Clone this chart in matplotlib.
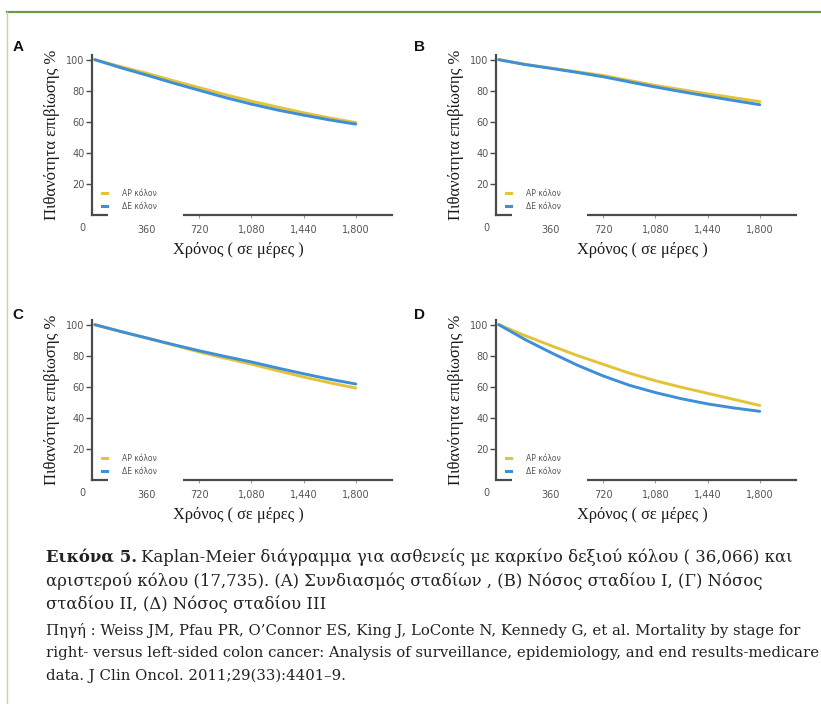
import matplotlib
matplotlib.use("Agg")
import matplotlib.pyplot as plt
from matplotlib.lines import Line2D
from matplotlib.patches import Rectangle

W, H = 821, 704

# survival (%) read every 180 days
days = [0, 180, 360, 540, 720, 900, 1080, 1260, 1440, 1620, 1800]
a_left = [100, 95.5, 91.2, 86.5, 82.0, 77.5, 73.3, 69.5, 65.8, 62.5, 59.5]
a_right = [100, 94.8, 90.0, 85.0, 80.3, 75.6, 71.4, 67.6, 64.3, 61.2, 58.5]
b_left = [100, 97.0, 94.6, 92.2, 89.8, 86.6, 83.4, 80.7, 78.0, 75.5, 73.0]
b_right = [100, 96.9, 94.4, 91.8, 89.0, 85.7, 82.4, 79.4, 76.5, 73.7, 71.0]
c_left = [100, 95.5, 91.3, 86.9, 82.4, 78.4, 74.6, 70.4, 66.3, 62.6, 59.2]
c_right = [100, 95.6, 91.4, 87.2, 83.2, 79.5, 76.0, 72.1, 68.4, 64.9, 61.8]
d_left = [100, 93.0, 86.5, 80.2, 74.5, 68.8, 63.9, 59.7, 55.8, 51.9, 48.0]
d_right = [100, 90.5, 82.0, 74.0, 67.0, 61.0, 56.3, 52.3, 49.0, 46.4, 44.2]

x_ticks = [360, 720, 1080, 1440, 1800]
x_ticklabels = ["360", "720", "1,080", "1,440", "1,800"]
y_ticks = [20, 40, 60, 80, 100]
series_labels = ["ΑΡ κόλον", "ΔΕ κόλον"]

YELLOW = "#e5c339"
BLUE = "#3d8fd8"
SPINE = "#4a4a4a"
TICK_TXT = "#555555"
SERIF = "Liberation Serif"
CAP_SERIF = "DejaVu Serif"

fig = plt.figure(figsize=(W / 100, H / 100), dpi=100)
fig.patch.set_facecolor("white")


def fx(px):
    return px / W


def fy(py):
    return 1 - py / H


# frame round the figure block
fig.add_artist(Line2D([fx(7), 1], [fy(12), fy(12)], color="#6f9a4c", lw=1.6))
fig.add_artist(Line2D([fx(7), fx(7)], [fy(12), 0], color="#cfcfa8", lw=1.0))

AX_W, AX_H = 300, 160

panels = [
    ("A", a_left, a_right, 92, 215, 18, 47),
    ("B", b_left, b_right, 496, 215, 419, 47),
    ("C", c_left, c_right, 92, 480, 18, 315),
    ("D", d_left, d_right, 496, 480, 419, 315),
]

for letter, left, right, x0, y0, lx, ly in panels:
    ax = fig.add_axes([fx(x0), fy(y0), AX_W / W, AX_H / H])
    ax.plot(days, left, color=YELLOW, lw=2.1, solid_capstyle="round")
    ax.plot(days, right, color=BLUE, lw=2.1, solid_capstyle="round")
    ax.set_xlim(-19, 2050)
    ax.set_ylim(0, 103)

    for side in ("top", "right"):
        ax.spines[side].set_visible(False)
    for side in ("left", "bottom"):
        ax.spines[side].set_color(SPINE)
        ax.spines[side].set_linewidth(1.6)

    ax.set_xticks(x_ticks)
    ax.set_xticklabels(x_ticklabels)
    ax.set_yticks(y_ticks)
    ax.tick_params(axis="x", length=2, width=0.8, color="#999999", pad=5,
                   labelsize=7, labelcolor=TICK_TXT)
    ax.tick_params(axis="y", length=4, width=1, color=SPINE, pad=1.5,
                   labelsize=7, labelcolor=TICK_TXT)
    ax.text((82 - 92) / AX_W, -13 / AX_H, "0", transform=ax.transAxes,
            ha="center", va="center", fontsize=7, color=TICK_TXT)

    # white strip behind the legend cuts the x axis line
    ax.add_patch(Rectangle((16 / AX_W, -0.04), 75 / AX_W, 0.08,
                           transform=ax.transAxes, fc="white", ec="none",
                           clip_on=False, zorder=3))
    handles = [Line2D([], [], color=YELLOW, lw=2.2),
               Line2D([], [], color=BLUE, lw=2.2)]
    ax.legend(handles, series_labels, loc="lower left",
              bbox_to_anchor=(10 / AX_W, 4 / AX_H), frameon=False,
              fontsize=5.5, handlelength=0.7, handletextpad=1.9,
              labelspacing=0.55, borderpad=0, borderaxespad=0,
              labelcolor="#555555")

    ax.text(-40 / AX_W, 0.5, "Πιθανότητα επιβίωσης %", transform=ax.transAxes,
            rotation=90, ha="center", va="center", family=SERIF,
            fontsize=12, color="#1a1a1a")
    ax.text(0.487, -35 / AX_H, "Χρόνος ( σε μέρες )", transform=ax.transAxes,
            ha="center", va="center", family=SERIF, fontsize=11.8,
            color="#1a1a1a")

    fig.text(fx(lx), fy(ly), letter, ha="center", va="center",
             family="Liberation Sans", fontweight="bold", fontsize=11,
             color="#111111")

# caption and source below the panels
renderer = fig.canvas.get_renderer()
cap_size = 11.85
bold = fig.text(fx(46), fy(562), "Εικόνα 5.", family=CAP_SERIF, fontweight="bold",
                fontsize=cap_size, va="baseline", color="#222222")
bb = bold.get_window_extent(renderer)
fig.text(bb.x1 / W + fx(4), fy(562),
         "Kaplan-Meier διάγραμμα για ασθενείς με καρκίνο δεξιού κόλου ( 36,066) και",
         family=CAP_SERIF, fontsize=cap_size, va="baseline", color="#222222")
fig.text(fx(46), fy(586),
         "αριστερού κόλου (17,735). (A) Συνδιασμός σταδίων , (B) Νόσος σταδίου I, (Γ) Νόσος",
         family=CAP_SERIF, fontsize=cap_size, va="baseline", color="#222222")
fig.text(fx(46), fy(609), "σταδίου II, (Δ) Νόσος σταδίου III",
         family=CAP_SERIF, fontsize=cap_size, va="baseline", color="#222222")

src_size = 10.75
source_lines = [
    "Πηγή : Weiss JM, Pfau PR, O’Connor ES, King J, LoConte N, Kennedy G, et al. Mortality by stage for",
    "right- versus left-sided colon cancer: Analysis of surveillance, epidemiology, and end results-medicare",
    "data. J Clin Oncol. 2011;29(33):4401–9.",
]
for i, line in enumerate(source_lines):
    fig.text(fx(46), fy(635 + 22.5 * i), line, family=CAP_SERIF, fontsize=src_size,
             va="baseline", color="#222222")

fig.savefig("out.png", dpi=100)
